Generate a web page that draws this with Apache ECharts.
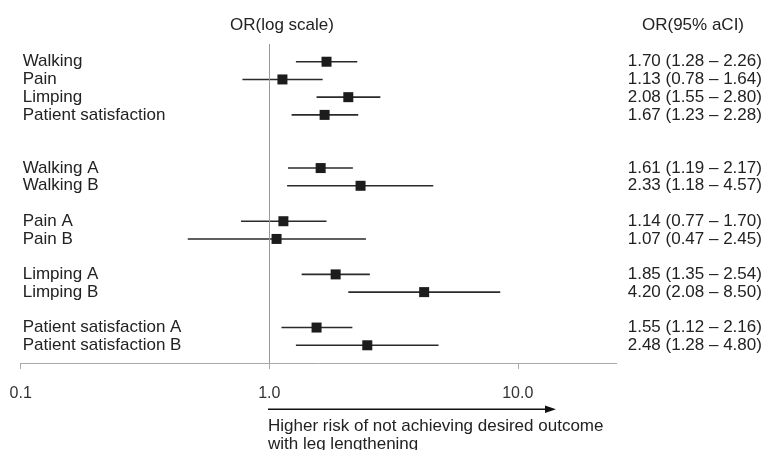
<!DOCTYPE html>
<html>
<head>
<meta charset="utf-8">
<script src="https://cdn.jsdelivr.net/npm/echarts@6/dist/echarts.min.js"></script>
<style>
html,body{margin:0;padding:0;background:#fff;}
#chart{width:769px;height:450px;}
</style>
</head>
<body>
<div id="chart"></div>
<script>
// Rows of the forest plot (blank entries are spacer rows)
const rowLabels = ['', 'Walking', 'Pain', 'Limping', 'Patient satisfaction', '', '',
  'Walking A', 'Walking B', '', 'Pain A', 'Pain B', '', 'Limping A', 'Limping B', '',
  'Patient satisfaction A', 'Patient satisfaction B', ''];
const oddsRatio = [null, 1.70, 1.13, 2.08, 1.67, null, null, 1.61, 2.33, null, 1.14, 1.07, null, 1.85, 4.20, null, 1.55, 2.48, null];
const ciLower  = [null, 1.28, 0.78, 1.55, 1.23, null, null, 1.19, 1.18, null, 0.77, 0.47, null, 1.35, 2.08, null, 1.12, 1.28, null];
const ciUpper  = [null, 2.26, 1.64, 2.80, 2.28, null, null, 2.17, 4.57, null, 1.70, 2.45, null, 2.54, 8.50, null, 2.16, 4.80, null];
const xTickValues = [0.1, 1, 10];

const ciText = oddsRatio.map((v, i) => v == null ? '' :
  v.toFixed(2) + ' (' + ciLower[i].toFixed(2) + ' \u2013 ' + ciUpper[i].toFixed(2) + ')');

const pointData = [];
oddsRatio.forEach((v, i) => { if (v != null) pointData.push([i, v, ciLower[i], ciUpper[i]]); });

const FONT = 'Liberation Sans, Arial, Helvetica, sans-serif';
const chart = echarts.init(document.getElementById('chart'), null, {renderer: 'canvas'});

chart.setOption({
  backgroundColor: '#fff',
  animation: false,
  textStyle: {fontFamily: FONT},
  grid: {left: 20.7, right: 152.3, top: 44, bottom: 87, containLabel: false, outerBoundsMode: 'none'},
  xAxis: {
    type: 'log', logBase: 10, min: 0.1, max: 25,
    axisLine: {show: true, lineStyle: {color: '#aaa', width: 1}},
    axisTick: {show: true, length: 6, lineStyle: {color: '#aaa'}, customValues: xTickValues},
    axisLabel: {customValues: xTickValues, margin: 23, fontSize: 16, color: '#333', fontFamily: FONT,
      formatter: v => Number(v).toFixed(1)},
    splitLine: {show: false},
    minorTick: {show: false}
  },
  yAxis: [
    {type: 'category', data: rowLabels, inverse: true, boundaryGap: false, position: 'left',
     axisLine: {show: false}, axisTick: {show: false}, splitLine: {show: false},
     axisLabel: {interval: 0, align: 'left', margin: -2, fontSize: 17, color: '#222', fontFamily: FONT}},
    {type: 'category', data: rowLabels, inverse: true, boundaryGap: false, position: 'right',
     axisLine: {show: false}, axisTick: {show: false}, splitLine: {show: false},
     axisLabel: {interval: 0, align: 'left', margin: 11, fontSize: 17, color: '#222', fontFamily: FONT,
       formatter: (v, i) => ciText[i]}}
  ],
  series: [{
    type: 'custom',
    xAxisIndex: 0, yAxisIndex: 0,
    data: pointData,
    encode: {x: [1, 2, 3], y: 0},
    renderItem: function (params, api) {
      const y = api.value(0);
      const c = api.coord([api.value(1), y]);
      const l = api.coord([api.value(2), y]);
      const h = api.coord([api.value(3), y]);
      const s = 10;
      return {
        type: 'group',
        children: [
          {type: 'line', shape: {x1: l[0], y1: c[1], x2: h[0], y2: c[1]},
           style: {stroke: '#2a2a2a', lineWidth: 1.6}},
          {type: 'rect', shape: {x: c[0] - s / 2, y: c[1] - s / 2, width: s, height: s},
           style: {fill: '#1c1c1c'}}
        ]
      };
    },
    markLine: {
      silent: true, symbol: 'none', label: {show: false},
      lineStyle: {color: '#999', width: 1, type: 'solid'},
      data: [{xAxis: 1}]
    }
  }],
  graphic: [
    {type: 'text', x: 282, y: 25,
     style: {text: 'OR(log scale)', font: '17px ' + FONT, fill: '#222', align: 'center', verticalAlign: 'middle'}},
    {type: 'text', x: 693, y: 25,
     style: {text: 'OR(95% aCI)', font: '17px ' + FONT, fill: '#222', align: 'center', verticalAlign: 'middle'}},
    {type: 'line', shape: {x1: 268, y1: 409.3, x2: 548, y2: 409.3},
     style: {stroke: '#111', lineWidth: 1.5}},
    {type: 'polygon', shape: {points: [[556, 409.3], [545, 405.5], [545, 413.1]]},
     style: {fill: '#111'}},
    {type: 'text', x: 268, y: 417,
     style: {text: 'Higher risk of not achieving desired outcome\nwith leg lengthening',
       font: '17px ' + FONT, fill: '#222', lineHeight: 18}}
  ]
});
</script>
</body>
</html>
